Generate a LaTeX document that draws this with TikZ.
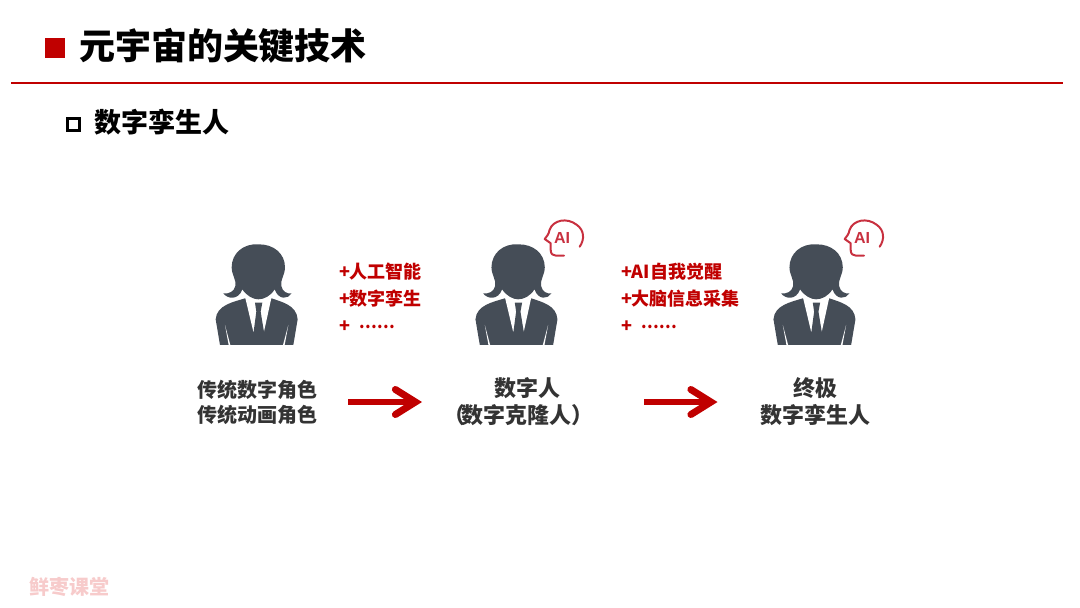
\documentclass[tikz,border=0pt]{standalone}
\usepackage{fontspec}
\setmainfont{Noto Sans CJK SC}
\newfontfamily\latinfont{Liberation Sans}
\usetikzlibrary{arrows.meta}
\definecolor{keyred}{HTML}{C00000}
\definecolor{slate}{HTML}{454D57}
\definecolor{airose}{HTML}{C8303F}
\definecolor{markpink}{HTML}{F7CBCB}
\newcommand{\fsize}[1]{\fontsize{#1}{#1}\selectfont\bfseries}

\begin{document}
\begin{tikzpicture}[
    x=1pt, y=-1pt,
    every node/.style={inner sep=0pt, outer sep=0pt},
    heading/.style={anchor=west, font=\fsize{36}},
    subheading/.style={anchor=west, font=\fsize{27}},
    caption/.style={align=center, font=\fsize{22}, text=black!80},
    gain/.style={anchor=west, font=\fsize{18}, text=keyred, text height=15pt, text depth=3pt},
    bigarrow/.style={keyred, line width=6pt, -{Straight Barb[length=20pt, width=25pt, line width=7pt, line cap=round, line join=miter]}},
    person/.pic={
      \begin{scope}[shift={(-66.7,-115)}, x=0.3333pt, y=-0.3333pt]
        % jacket, shirt, tie
        \fill[slate] (165,205) .. controls (130,216) and (80,225) .. (77,268) -- (90,345)
          -- (310,345) -- (323,268) .. controls (320,225) and (275,216) .. (245,205) -- cycle;
        \fill[white] (165,200) -- (190,305) -- (222,305) -- (245,200) -- cycle;
        \fill[slate] (195,218) -- (217,218) -- (212,245) -- (223,312) -- (207,342) -- (190,312) -- (199,245) -- cycle;
        \fill[white] (105,285) -- (116,345) -- (121,345) -- cycle;
        \fill[white] (295,285) -- (284,345) -- (279,345) -- cycle;
        % hair and face
        \fill[slate] (205,43) .. controls (160,40) and (125,70) .. (125,112)
          .. controls (125,135) and (140,150) .. (136,168)
          .. controls (132,185) and (118,192) .. (100,190)
          .. controls (112,207) and (145,212) .. (157,178)
          .. controls (170,198) and (190,208) .. (205,208)
          .. controls (222,208) and (242,198) .. (254,178)
          .. controls (266,212) and (295,207) .. (305,190)
          .. controls (290,192) and (278,185) .. (274,168)
          .. controls (270,150) and (285,135) .. (285,112)
          .. controls (285,70) and (250,42) .. (205,43) -- cycle;
      \end{scope}
    },
    aihead/.pic={
      \draw[airose, line width=2pt, line cap=round, line join=round]
        (17.7,8.7) .. controls (23,1) and (22,-8) .. (15,-13)
        .. controls (5,-21) and (-9,-18) .. (-12.5,-8)
        .. controls (-13,-4) and (-15,-2) .. (-17.3,1)
        -- (-11.3,5.3) -- (-11.3,12) .. controls (-11.3,16) and (-9,17.7) .. (-6,17.7) -- (2,17.7);
      \node[airose, font=\latinfont\fsize{16}] (#1) at (0,0.3) {AI};
    }
]
  % page
  \useasboundingbox (0,0) rectangle (1080,608);
  \fill[keyred] (44.5,37.5) rectangle (65,58);
  \draw[keyred, line width=2pt] (11,83) -- (1063,83);
  \draw[black, line width=3pt] (67.2,118.2) rectangle (79.5,130.5);

  % headings
  \node[heading] (title) at (79,46) {元宇宙的关键技术};
  \node[subheading] (sub) at (94,122) {数字孪生人};

  % people
  \pic at (256.7,345) {person};
  \pic at (516.5,345) {person};
  \pic at (814.5,345) {person};
  \pic at (562,238) {aihead=aiB};
  \pic at (862,238) {aihead=aiC};

  % captions
  \node[caption, font=\fsize{20}] (legacy) at (257,402) {传统数字角色\\[5pt]传统动画角色};
  \node[caption] (clone) at (518,402) {\hspace*{18pt}数字人\\[5pt]（\hspace{-4pt}数字克隆人）};
  \node[caption] (ultimate) at (815.5,402) {终极\\[5pt]数字孪生人};

  % gains
  \node[gain] (gainAa) at (339,272.7) {+人工智能};
  \node[gain] (gainAb) at (339,299.7) {+数字孪生};
  \node[gain] (gainAc) at (339,326) {+\hspace{9pt}\raisebox{0.2em}{\fontsize{16}{16}\selectfont ……}};
  \node[gain] (gainBa) at (621,272.7) {+AI自我觉醒};
  \node[gain] (gainBb) at (621,299.7) {+大脑信息采集};
  \node[gain] (gainBc) at (621,326) {+\hspace{9pt}\raisebox{0.2em}{\fontsize{16}{16}\selectfont ……}};

  % edges
  \draw[bigarrow, shorten <=31pt, shorten >=21pt] (legacy.east) -- (clone.west);
  \draw[bigarrow, shorten <=51pt, shorten >=43pt] (clone.east) -- (ultimate.west);

  % watermark
  \node[anchor=west, font=\fsize{20}, text=markpink] (mark) at (30,587) {鲜枣课堂};
\end{tikzpicture}
\end{document}
